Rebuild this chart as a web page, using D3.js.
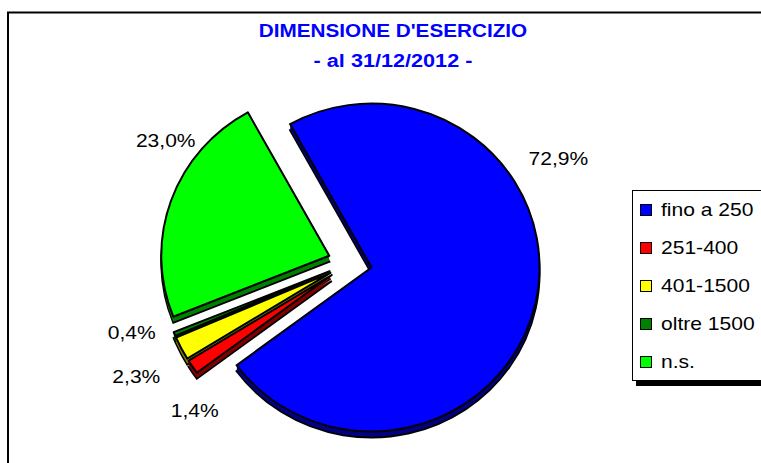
<!DOCTYPE html>
<html>
<head>
<meta charset="utf-8">
<title>Dimensione d'esercizio</title>
<style>
    html, body { margin: 0; padding: 0; background: #fff; }
    svg { display: block; font-family: Arial, "Liberation Sans", sans-serif; }
</style>
<script src="https://d3js.org/d3.v7.min.js"></script>
</head>
<body>
<svg id="chart" width="761" height="463"></svg>
<script>
// dati
const categories = ["fino a 250", "251-400", "401-1500", "oltre 1500", "n.s."];
const values = [72.9, 1.4, 2.3, 0.4, 23.0];
const labels = ["72,9%", "1,4%", "2,3%", "0,4%", "23,0%"];
const titleLines = ["DIMENSIONE D'ESERCIZIO", "- al 31/12/2012 -"];

const topColors = ["#0000ff", "#ff0000", "#ffff00", "#008000", "#00ff00"];
const sideColors = ["#000080", "#800000", "#808000", "#004000", "#008000"];

// layout
const W = 761, H = 463;
const cx = 350, cy = 263;       // pie centre
const rx = 168, k = 164 / 168;  // ellipse radii ratio
const explode = 22, depth = 6;
const sx = 1.17;                // horizontal text stretch of the original
const deg = Math.PI / 180;
const a0 = -29 * deg;
// label placement: angle (deg, clockwise from top) and distance from centre
const labelPos = [[63.4, 233], [226.5, 214], [242, 242], [252.4, 229], [303.5, 221]];

const svg = d3.select("#chart");

// frame (only top and left edges are in view)
svg.append("path")
    .attr("d", `M8,${H} V12.5 H${W}`)
    .attr("fill", "none")
    .attr("stroke", "#000")
    .attr("stroke-width", 2);

// title
svg.selectAll(".title")
    .data(titleLines)
    .enter().append("text")
    .attr("class", "title")
    .attr("transform", (d, i) => `translate(393,${37 + i * 30}) scale(${i === 0 ? 1.12 : sx},1)`)
    .attr("text-anchor", "middle")
    .attr("font-size", "18.5px")
    .attr("font-weight", "bold")
    .attr("fill", "#0000ff")
    .text(d => d);

// pie
const pie = d3.pie().sort(null).value(d => d)
    .startAngle(a0).endAngle(a0 + 2 * Math.PI);
const arcs = pie(values);
const arc = d3.arc().innerRadius(0).outerRadius(rx);

arcs.forEach((a, i) => {
    a.index = i;
    a.mid = (a.startAngle + a.endAngle) / 2;
    a.ox = explode * Math.sin(a.mid);
    a.oy = -explode * Math.cos(a.mid) * k;
});

const order = arcs.slice().sort((p, q) => -Math.cos(p.mid) - -Math.cos(q.mid));

const pieG = svg.append("g");
order.forEach(a => {
    const g = pieG.append("g");
    for (let d = depth; d >= 1; d--) {
        g.append("path")
            .attr("transform", `translate(${cx + a.ox},${cy + a.oy + d}) scale(1,${k})`)
            .attr("d", arc(a))
            .attr("fill", sideColors[a.index])
            .attr("stroke", d === depth ? "#000" : "none")
            .attr("stroke-width", 2)
            .attr("vector-effect", "non-scaling-stroke");
    }
    g.append("path")
        .attr("transform", `translate(${cx + a.ox},${cy + a.oy}) scale(1,${k})`)
        .attr("d", arc(a))
        .attr("fill", topColors[a.index])
        .attr("stroke", "#000")
        .attr("stroke-width", 2)
        .attr("stroke-linejoin", "round")
        .attr("vector-effect", "non-scaling-stroke");
});

// data labels
svg.selectAll(".lbl")
    .data(labels)
    .enter().append("text")
    .attr("class", "lbl")
    .attr("transform", (d, i) => {
        const ang = labelPos[i][0] * deg, r = labelPos[i][1];
        return `translate(${cx + r * Math.sin(ang)},${cy - r * Math.cos(ang)}) scale(${sx},1)`;
    })
    .attr("text-anchor", "middle")
    .attr("dy", "0.35em")
    .attr("font-size", "18px")
    .attr("fill", "#000")
    .text(d => d);

// legend
const lg = svg.append("g");
lg.append("rect")
    .attr("x", 636).attr("y", 380).attr("width", 140).attr("height", 6)
    .attr("fill", "#000");
lg.append("rect")
    .attr("x", 632.5).attr("y", 190.5).attr("width", 140).attr("height", 190)
    .attr("fill", "#fff").attr("stroke", "#000").attr("stroke-width", 1);

const rowY = d3.scalePoint().domain(categories).range([210, 362]);
const item = lg.selectAll(".item")
    .data(categories)
    .enter().append("g")
    .attr("class", "item")
    .attr("transform", d => `translate(0,${rowY(d)})`);
item.append("rect")
    .attr("x", 640.5).attr("y", -5.5).attr("width", 11).attr("height", 11)
    .attr("fill", (d, i) => topColors[i])
    .attr("stroke", "#000").attr("stroke-width", 1);
item.append("text")
    .attr("transform", `translate(661,0) scale(${sx},1)`)
    .attr("dy", "0.35em")
    .attr("font-size", "18px")
    .attr("fill", "#000")
    .text(d => d);
</script>
</body>
</html>
